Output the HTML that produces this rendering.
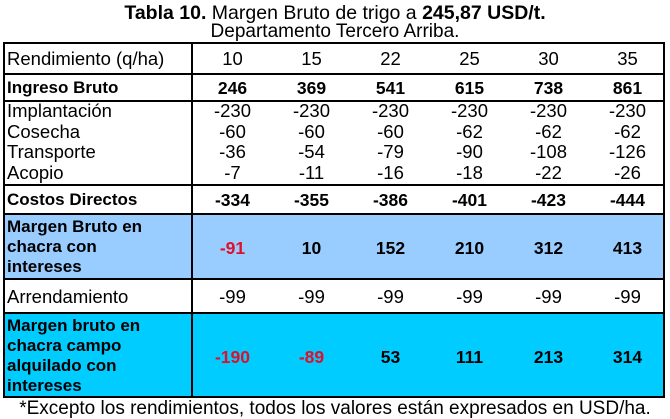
<!DOCTYPE html>
<html><head><meta charset="utf-8"><style>
body{margin:0;width:670px;height:419px;background:#fff;font-family:"Liberation Sans",sans-serif;color:#000;position:relative;overflow:hidden}
.t{position:absolute;left:0;width:670px;text-align:center;font-size:19px;line-height:19px}
.row{position:absolute;left:3px;width:662px;border:2px solid #000;border-top:none;box-sizing:border-box}
.lab{position:absolute;left:7px;font-size:18.5px;line-height:20px}
.lab.bd{font-size:17px;font-weight:bold}
.v{position:absolute;width:79px;text-align:center;font-size:18.5px;line-height:20px}
.v.bd{font-size:17.5px;font-weight:bold}
.vline{position:absolute;left:191px;top:42px;width:2px;height:356px;background:#000}
.neg{color:#e0102a}
</style></head><body>
<div class="t" style="top:4px;font-size:19.5px"><b>Tabla 10.</b> Margen Bruto de trigo a <b>245,87 USD/t.</b></div>
<div class="t" style="top:22px">Departamento Tercero Arriba.</div>
<div class="row" style="top:42px;height:33px;border-top:2px solid #000"></div>
<div class="row" style="top:75px;height:27px"></div>
<div class="row" style="top:102px;height:84px"></div>
<div class="row" style="top:186px;height:29px"></div>
<div class="row" style="top:215px;height:65px;background:#99ccff"></div>
<div class="row" style="top:280px;height:34px"></div>
<div class="row" style="top:314px;height:84px;background:#00ccff"></div>
<div class="vline"></div>
<div id="cells"></div>
<div class="t" style="top:399px;font-size:19px">*Excepto los rendimientos, todos los valores están expresados en USD/ha.</div>
<script>
const yields=["10","15","22","25","30","35"];
const ingreso=[246,369,541,615,738,861];
const implantacion=[-230,-230,-230,-230,-230,-230];
const cosecha=[-60,-60,-60,-62,-62,-62];
const transporte=[-36,-54,-79,-90,-108,-126];
const acopio=[-7,-11,-16,-18,-22,-26];
const costos=[-334,-355,-386,-401,-423,-444];
const margen=[-91,10,152,210,312,413];
const arrendamiento=[-99,-99,-99,-99,-99,-99];
const margenAlq=[-190,-89,53,111,213,314];
const rows=[
 {lab:"Rendimiento (q/ha)",vals:yields,y:49,bold:false,name:"rendimiento"},
 {lab:"Ingreso Bruto",vals:ingreso,y:78,bold:true,name:"ingreso-bruto"},
 {lab:"Implantación",vals:implantacion,y:101,bold:false,name:"implantacion"},
 {lab:"Cosecha",vals:cosecha,y:122,bold:false,name:"cosecha"},
 {lab:"Transporte",vals:transporte,y:142,bold:false,name:"transporte"},
 {lab:"Acopio",vals:acopio,y:163,bold:false,name:"acopio"},
 {lab:"Costos Directos",vals:costos,y:190,bold:true,name:"costos-directos"},
 {lab:"Margen Bruto en<br>chacra con<br>intereses",vals:margen,y:238,ly:217,bold:true,name:"margen-bruto",red:true},
 {lab:"Arrendamiento",vals:arrendamiento,y:287,bold:false,name:"arrendamiento"},
 {lab:"Margen bruto en<br>chacra campo<br>alquilado con<br>intereses",vals:margenAlq,y:347,ly:316,bold:true,name:"margen-alquilado",red:true}
];
const c=document.getElementById('cells');
rows.forEach(r=>{
 const l=document.createElement('div');
 l.className='lab'+(r.bold?' bd':'');
 l.style.top=(r.ly||r.y)+'px';
 l.innerHTML=r.lab;
 
 
 c.appendChild(l);
 r.vals.forEach((v,i)=>{
  const d=document.createElement('div');
  d.className='v'+(r.bold?' bd':'');
  d.style.left=(193+79*i)+'px';
  d.style.top=r.y+'px';
  if(r.red&&Number(v)<0)d.classList.add('neg');
  d.textContent=v;
  
  
  c.appendChild(d);
 });
});
</script>
</body></html>
